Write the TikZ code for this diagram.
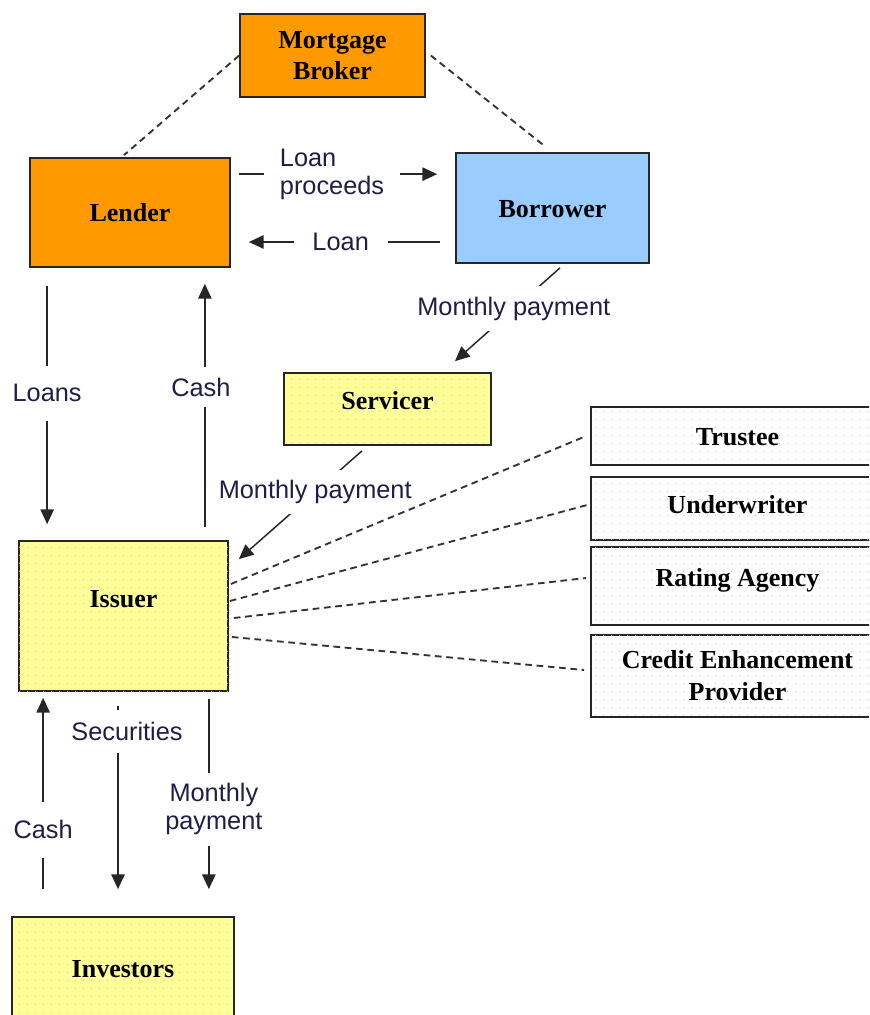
\documentclass[tikz,border=0pt]{standalone}
\usepackage{fontspec}
\setmainfont{Liberation Serif}
\setsansfont{Liberation Sans}
\usetikzlibrary{calc,arrows.meta,patterns.meta}
\definecolor{orng}{RGB}{255,153,0}
\definecolor{blu}{RGB}{153,204,255}
\definecolor{yel}{RGB}{255,255,153}
\definecolor{navy}{RGB}{30,30,70}
\tikzdeclarepattern{
  name=sparsedots,
  type=uncolored,
  bounding box={(0pt,0pt) and (6pt,6pt)},
  tile size={(6pt,6pt)},
  code={\fill (3pt,3pt) circle (0.5pt);}
}
\begin{document}
\begin{tikzpicture}[x=0.75pt,y=-0.75pt,
  box/.style={draw=black!85,line width=1.3pt,font=\fontsize{19.5}{23}\selectfont\bfseries,inner sep=0pt,align=center},
  dotted box/.style={postaction={pattern=sparsedots,pattern color=#1}},
  one/.style={text height=14pt,text depth=#1},
  one/.default=0pt,
  arr/.style={draw=black!85,line width=1.1pt,-{Triangle[length=11pt,width=10pt]}},
  dsh/.style={draw=black!80,line width=1.4pt,dash pattern=on 5pt off 3.5pt},
  lbl/.style={fill=white,text=navy,font=\sffamily\fontsize{19}{21}\selectfont,inner xsep=6pt,inner ysep=4pt,align=center}
]
\useasboundingbox (0,0) rectangle (869,1015);
\clip (0,0) rectangle (869,1015);

% boxes
\node[box,fill=orng,minimum width=138.75pt,minimum height=62.25pt] (broker) at (332.5,55.5) {Mortgage\\Broker};
\node[box,one,fill=orng,minimum width=150pt,minimum height=81.75pt] (lender) at (130,212.5) {Lender};
\node[box,one,fill=blu,dotted box=blue!30,minimum width=144.75pt,minimum height=82.5pt] (borrower) at (552.5,208) {Borrower};
\node[box,one=13.5pt,fill=yel,dotted box=red!35,minimum width=155.25pt,minimum height=54pt] (servicer) at (387.5,409) {Servicer};
\node[box,one=27pt,fill=yel,dotted box=red!35,minimum width=156.75pt,minimum height=112.5pt] (issuer) at (123.5,616) {Issuer};
\node[box,one,fill=yel,dotted box=red!35,minimum width=166.5pt,minimum height=77.25pt] (investors) at (123,968.5) {Investors};
\node[box,one,fill=white,dotted box=violet!30,minimum width=219.75pt,minimum height=43.5pt] (trustee) at (737.5,436) {Trustee};
\node[box,one=6.75pt,fill=white,dotted box=violet!30,minimum width=219.75pt,minimum height=47.25pt] (under) at (737.5,508.5) {Underwriter};
\node[box,one=13.5pt,fill=white,dotted box=violet!30,minimum width=219.75pt,minimum height=58.5pt] (rating) at (737.5,586) {Rating Agency};
\node[box,fill=white,dotted box=violet!30,minimum width=219.75pt,minimum height=61.5pt,font=\fontsize{19.5}{24}\selectfont\bfseries] (cep) at (737.5,676) {Credit Enhancement\\Provider};

% flows
\draw[arr] ($(lender.north east)+(8,17)$) -- node[lbl,pos=0.47,align=left,inner xsep=12pt] (lp) {Loan\\proceeds} ($(borrower.north west)+(-18,22)$);
\draw[arr] ($(borrower.west)+(-15,34)$) -- node[lbl,pos=0.52,inner xsep=14pt] (ln) {Loan} ($(lender.east)+(18,29.5)$);
\draw[arr] ($(borrower.south)+(7.5,4)$) -- node[lbl,pos=0.44,inner ysep=8pt] (mp1) {Monthly payment} ($(servicer.north)+(67.5,-11)$);
\draw[arr] ($(lender.south west)+(18,18)$) -- node[lbl,pos=0.45,inner ysep=14pt] (lo) {Loans} ($(issuer.north west)+(29,-16)$);
\draw[arr] ($(issuer.north east)+(-24,-13)$) -- node[lbl,pos=0.575,xshift=-3pt,inner ysep=8pt] (c1) {Cash} ($(lender.south east)+(-26,16)$);
\draw[arr] ($(servicer.south)+(-25.5,5)$) -- node[lbl,pos=0.38,inner ysep=8pt] (mp2) {Monthly payment} ($(issuer.north east)+(10,19)$);
\draw[arr] ($(investors.north west)+(32,-27)$) -- node[lbl,pos=0.31,inner ysep=14pt] (c2) {Cash} ($(issuer.south west)+(25,6)$);
\draw[arr] ($(issuer.south)+(-5.5,14)$) -- node[lbl,pos=0.14,xshift=6.75pt,inner ysep=9pt] (sec) {Securities} ($(investors.north)+(-5,-27)$);
\draw[arr] ($(issuer.south east)+(-20,7)$) -- node[lbl,pos=0.58,xshift=3.75pt,inner ysep=8pt] (mp3) {Monthly\\payment} ($(investors.north east)+(-26,-27)$);

% dashed associations
\draw[dsh] (broker.west) -- ($(lender.north)+(-6,-2)$);
\draw[dsh] ($(broker.east)+(5,0)$) -- ($(borrower.north)+(-6.5,-5)$);
\draw[dsh] ($(issuer.east)+(2,-32)$) -- ($(trustee.west)+(-4,0)$);
\draw[dsh] ($(issuer.east)+(1,-15)$) -- ($(under.west)+(-3,-3.5)$);
\draw[dsh] ($(issuer.east)+(5,2)$) -- ($(rating.west)+(-4,-8)$);
\draw[dsh] ($(issuer.east)+(3,21)$) -- ($(cep.west)+(-6,-6)$);
\end{tikzpicture}
\end{document}
